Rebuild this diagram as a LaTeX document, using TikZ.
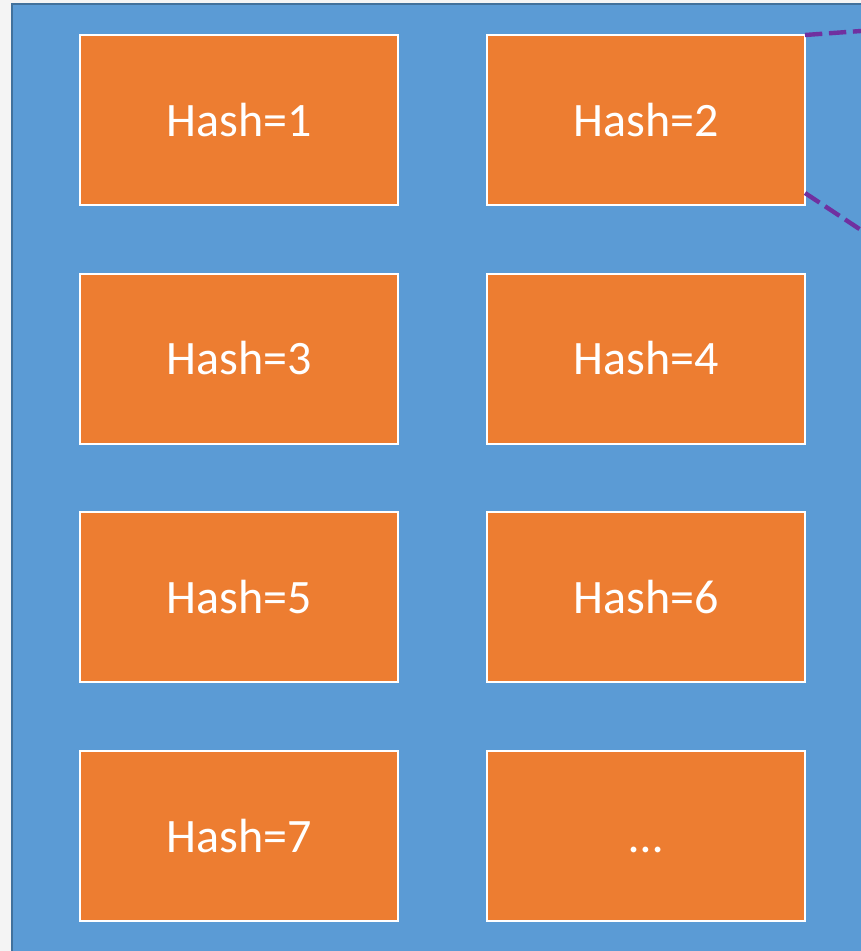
\documentclass[tikz,border=0pt]{standalone}
\usepackage{fontspec}
\setmainfont{Carlito}
\usetikzlibrary{positioning}
\definecolor{bggray}{HTML}{F4F4F4}
\definecolor{tblue}{HTML}{5B9BD5}
\definecolor{tblueline}{HTML}{41719C}
\definecolor{borange}{HTML}{ED7D31}
\definecolor{lpurple}{HTML}{7030A0}
\tikzset{bucket/.style={draw=white, line width=1.5pt, fill=borange, minimum width=238.5pt, minimum height=127.5pt, inner sep=0pt, outer sep=0pt, text=white, text height=24pt, text depth=0pt, font=\fontsize{36}{40}\selectfont}}
\tikzset{link/.style={draw=lpurple, line width=3.3pt, dash pattern=on 13pt off 5pt}}

\begin{document}
\begin{tikzpicture}[x=0.75pt,y=-0.75pt]
\useasboundingbox (0,0) rectangle (861,951);
\fill[bggray] (0,0) rectangle (861,951);
\filldraw[fill=tblue, draw=tblueline, line width=2pt] (12,4) rectangle (880,970);

\node (h1) [bucket] at (239,120) {Hash=1};
\node (h2) [bucket, right=66.75pt of h1] {Hash=2};
\node (h3) [bucket, below=51.5pt of h1] {Hash=3};
\node (h4) [bucket, right=66.75pt of h3] {Hash=4};
\node (h5) [bucket, below=51.5pt of h3] {Hash=5};
\node (h6) [bucket, right=66.75pt of h5] {Hash=6};
\node (h7) [bucket, below=51.5pt of h5] {Hash=7};
\node (more) [bucket, right=66.75pt of h7] {…};

\coordinate (up) at (861,31);
\coordinate (down) at (861,230);
\draw[link] (h2.north east) -- (up);
\draw[link] ([yshift=9pt]h2.south east) -- (down);
\end{tikzpicture}
\end{document}
